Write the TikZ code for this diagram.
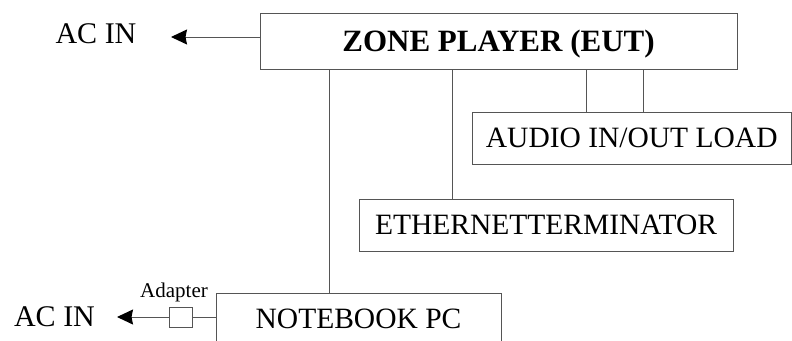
\documentclass[tikz,border=0pt]{standalone}
\usepackage{fontspec}
\setmainfont{Liberation Serif}
\usetikzlibrary{arrows.meta}
\definecolor{ln}{HTML}{555555}
\tikzset{
  box/.style={draw=ln, line width=1pt, inner sep=0pt, font=\fontsize{29.5}{34}\selectfont, text height=19.5pt, text depth=0pt},
  wire/.style={draw=ln, line width=1pt},
  arr/.style={wire, -{Stealth[length=16pt,width=15pt,inset=1.5pt,color=black,fill=black]}},
  lbl/.style={inner sep=0pt, font=\fontsize{30}{34}\selectfont, text height=20pt, text depth=0pt}
}
\begin{document}
\begin{tikzpicture}[x=1pt,y=-1pt]
\useasboundingbox (0,0) rectangle (792,340);
\clip (0,0) rectangle (792,340);
\node[box, minimum width=477pt, minimum height=56pt, font=\fontsize{31}{36}\selectfont\bfseries, text height=20.5pt] (zp) at (498.5,41.5) {ZONE PLAYER (EUT)};
\node[box, minimum width=319.5pt, minimum height=52pt] (au) at (631.75,138) {AUDIO IN/OUT LOAD};
\node[box, minimum width=374pt, minimum height=52pt] (et) at (546,225) {ETHERNETTERMINATOR};
\node[box, minimum width=285pt, minimum height=51pt] (nb) at (358.5,318.5) {NOTEBOOK PC};
\node[draw=ln, line width=1pt, minimum width=23pt, minimum height=20pt, inner sep=0pt] (ad) at (180.5,317) {};
\node[inner sep=0pt, anchor=base, font=\fontsize{21}{24}\selectfont] (adl) at (174,297) {Adapter};
\node[lbl] (ac1) at (96,33.5) {AC IN};
\node[lbl] (ac2) at (54.5,316) {AC IN};
\coordinate (t1) at (171,37);
\coordinate (t2) at (117,317);
\coordinate (x1) at (329,0);
\coordinate (x2) at (452,0);
\coordinate (x3) at (586,0);
\coordinate (x4) at (643,0);
\draw[arr] (zp.west |- t1) -- (t1);
\draw[wire] (nb.west |- ad.east) -- (ad.east);
\draw[arr] (ad.west) -- (t2);
\draw[wire] (zp.south -| x1) -- (nb.north -| x1);
\draw[wire] (zp.south -| x2) -- (et.north -| x2);
\draw[wire] (zp.south -| x3) -- (au.north -| x3);
\draw[wire] (zp.south -| x4) -- (au.north -| x4);
\end{tikzpicture}
\end{document}
